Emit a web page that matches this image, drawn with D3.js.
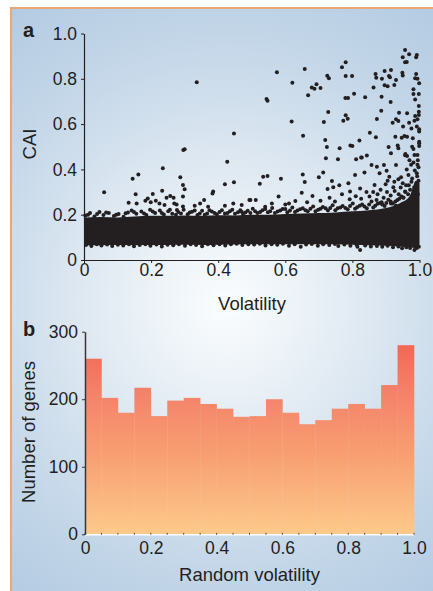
<!DOCTYPE html>
<html>
<head>
<meta charset="utf-8">
<script src="https://cdn.jsdelivr.net/npm/d3@7"></script>
<style>
body { margin: 0; background: #fff; }
svg text { font-family: "Liberation Sans", Arial, Helvetica, sans-serif; fill: #231f20; }
</style>
</head>
<body>
<div id="chart"></div>
<script>
// ---- panel a: CAI vs volatility ----
// dense core of the cloud, read as an envelope (volatility, low CAI, high CAI)
var bandVol  = [0, 0.05, 0.1, 0.15, 0.2, 0.25, 0.3, 0.35, 0.4, 0.45, 0.5, 0.55, 0.6, 0.65, 0.7, 0.75, 0.8, 0.85, 0.9, 0.94, 0.97, 0.99, 1.0];
var bandHigh = [0.188, 0.190, 0.188, 0.192, 0.195, 0.195, 0.197, 0.195, 0.198, 0.197, 0.200, 0.200, 0.203, 0.205, 0.207, 0.210, 0.215, 0.220, 0.230, 0.250, 0.280, 0.350, 0.340];
var bandLow  = [0.064, 0.065, 0.066, 0.065, 0.066, 0.066, 0.067, 0.066, 0.067, 0.068, 0.069, 0.069, 0.069, 0.069, 0.069, 0.069, 0.067, 0.065, 0.063, 0.060, 0.056, 0.052, 0.056];

// single genes outside the core: [volatility, CAI]
var outlierGenes = [
    [0.336,0.785],[0.300,0.489],[0.296,0.486],
    [0.957,0.927],[0.969,0.908],[0.992,0.905],[0.990,0.895],[0.950,0.895],[0.957,0.873],[0.962,0.874],
    [0.780,0.873],[0.769,0.851],[0.658,0.843],[0.575,0.829],[0.621,0.783],[0.725,0.814],[0.730,0.802],
    [0.780,0.812],[0.799,0.812],[0.679,0.762],[0.687,0.756],[0.693,0.776],[0.705,0.759],[0.668,0.727],
    [0.544,0.711],[0.547,0.703],[0.869,0.821],[0.871,0.805],[0.896,0.834],[0.915,0.839],[0.909,0.812],
    [0.912,0.807],[0.888,0.800],[0.930,0.795],[0.949,0.827],[0.950,0.815],[0.990,0.821],[0.987,0.802],
    [0.994,0.800],[0.999,0.780],[0.896,0.771],[0.905,0.767],[0.925,0.773],[0.863,0.762],[0.982,0.754],
    [0.982,0.733],[0.998,0.733],[0.987,0.709],[0.805,0.734],[0.779,0.715],[0.787,0.715],[0.838,0.718],
    [0.887,0.721],[0.914,0.698],[0.998,0.680],[0.728,0.653],[0.886,0.659],[0.939,0.650],[0.963,0.648],
    [0.987,0.636],[0.998,0.655],[0.998,0.640],[0.780,0.639],[0.786,0.624],[0.773,0.615],[0.715,0.609],
    [0.619,0.612],[0.873,0.623],[0.930,0.621],[0.937,0.614],[0.920,0.606],[0.969,0.606],[0.994,0.621],
    [0.985,0.615],[0.951,0.589],[0.976,0.581],[0.992,0.589],[0.999,0.577],[0.999,0.567],
    [0.447,0.558],[0.653,0.549],[0.852,0.562],[0.870,0.542],[0.928,0.544],[0.947,0.540],[0.955,0.547],
    [0.963,0.544],[0.980,0.537],[0.999,0.522],[0.999,0.515],[0.999,0.503],
    [0.719,0.530],[0.724,0.499],[0.762,0.493],[0.794,0.506],[0.800,0.503],[0.821,0.528],[0.908,0.499],
    [0.935,0.506],[0.937,0.493],[0.978,0.500],[0.982,0.490],[0.958,0.468],[0.963,0.459],[0.985,0.464],
    [0.994,0.464],[0.915,0.471],[0.843,0.461],[0.826,0.452],[0.811,0.445],[0.721,0.449],[0.757,0.445],
    [0.427,0.434],[0.420,0.334],[0.447,0.343],[0.524,0.337],[0.534,0.368],[0.547,0.371],[0.587,0.359],
    [0.652,0.377],[0.658,0.344],[0.700,0.365],[0.713,0.386],[0.739,0.349],[0.828,0.453],
    [0.957,0.463],[0.857,0.419],[0.873,0.412],[0.894,0.419],[0.902,0.394],[0.930,0.419],
    [0.962,0.400],[0.967,0.375],[0.992,0.383],[0.994,0.421],[0.881,0.383],[0.910,0.368],[0.937,0.356],
    [0.808,0.375],[0.836,0.386],[0.726,0.313],[0.743,0.321],[0.761,0.330],[0.649,0.297],[0.681,0.283],
    [0.788,0.339],[0.823,0.316],[0.793,0.302],[0.866,0.331],[0.899,0.334],[0.922,0.321],[0.950,0.339],
    [0.957,0.302],[0.512,0.265],[0.493,0.265],[0.580,0.280],[0.611,0.250],[0.470,0.243],[0.385,0.302],
    [0.060,0.299],[0.145,0.359],[0.162,0.378],[0.235,0.405],[0.287,0.365],[0.295,0.331],[0.300,0.312],
    [0.233,0.306],[0.154,0.290],[0.133,0.253],[0.157,0.250],[0.183,0.262],[0.205,0.291],[0.214,0.262],
    [0.225,0.250],[0.240,0.243],[0.257,0.283],[0.269,0.250],[0.295,0.280],[0.346,0.250],[0.358,0.265],
    [0.383,0.294],[0.267,0.275],[0.190,0.272],[0.246,0.275],[0.199,0.255],[0.276,0.245],
    [0.295,0.236],[0.277,0.221],[0.496,0.265],[0.470,0.213],
    [0.705,0.262],[0.732,0.275],[0.748,0.258],[0.769,0.290],[0.792,0.268],[0.810,0.282],[0.826,0.270],
    [0.842,0.300],[0.851,0.280],[0.862,0.300],[0.875,0.290],[0.884,0.310],[0.893,0.275],[0.903,0.300],
    [0.914,0.285],[0.926,0.305],[0.938,0.290],[0.944,0.320],[0.952,0.275],[0.960,0.330],[0.966,0.290],
    [0.972,0.310],[0.976,0.345],[0.981,0.280],[0.984,0.320],[0.989,0.300],[0.991,0.340],[0.995,0.290],
    [0.997,0.410],[0.995,0.440],[0.982,0.430],[0.975,0.420],[0.970,0.440],[0.945,0.365],[0.925,0.345],
    [0.905,0.350],[0.887,0.255],[0.872,0.265],[0.958,0.250],[0.970,0.260],[0.988,0.250],[0.930,0.240],
    [0.915,0.250],[0.600,0.245],[0.560,0.250],[0.630,0.260],[0.540,0.235],[0.665,0.255],[0.420,0.240],
    [0.370,0.235],[0.445,0.250],[0.330,0.240]
];

// genes on the upper rim of the core
var upperRimGenes = [
    [0.004,0.197],[0.018,0.207],[0.031,0.192],[0.046,0.212],[0.058,0.199],[0.074,0.208],[0.089,0.194],
    [0.103,0.203],[0.118,0.191],[0.131,0.210],[0.142,0.218],[0.156,0.204],[0.171,0.214],[0.186,0.199],
    [0.197,0.222],[0.212,0.208],[0.226,0.218],[0.238,0.201],[0.251,0.215],[0.263,0.204],[0.281,0.212],
    [0.297,0.222],[0.309,0.202],[0.322,0.213],[0.338,0.199],[0.352,0.217],[0.367,0.205],[0.381,0.214],
    [0.396,0.202],[0.411,0.220],[0.428,0.208],[0.442,0.222],[0.459,0.211],[0.474,0.203],[0.488,0.217],
    [0.503,0.226],[0.517,0.207],[0.532,0.220],[0.548,0.211],[0.561,0.230],[0.577,0.214],[0.592,0.225],
    [0.606,0.211],[0.621,0.232],[0.636,0.218],[0.652,0.228],[0.667,0.215],[0.683,0.236],[0.698,0.222],
    [0.712,0.234],[0.727,0.219],[0.741,0.242],[0.756,0.228],[0.771,0.238],[0.786,0.224],[0.801,0.250],
    [0.814,0.233],[0.829,0.245],[0.843,0.229],[0.857,0.258],[0.868,0.240],[0.882,0.252],[0.896,0.238],
    [0.907,0.266],[0.921,0.250],[0.934,0.265],[0.946,0.280],[0.958,0.300],[0.968,0.330],[0.978,0.360],
    [0.986,0.395],[0.993,0.370],[0.997,0.350],
    [0.012,0.200],[0.039,0.203],[0.066,0.210],[0.096,0.200],[0.124,0.206],[0.149,0.212],[0.179,0.205],
    [0.205,0.214],[0.232,0.208],[0.256,0.222],[0.274,0.200],[0.289,0.205],[0.315,0.210],[0.330,0.218],
    [0.345,0.205],[0.360,0.200],[0.374,0.220],[0.389,0.208],[0.404,0.212],[0.420,0.205],[0.435,0.215],
    [0.450,0.204],[0.466,0.220],[0.481,0.210],[0.496,0.208],[0.510,0.215],[0.525,0.212],[0.540,0.225],
    [0.555,0.215],[0.569,0.208],[0.585,0.218],[0.600,0.225],[0.614,0.218],[0.629,0.212],[0.644,0.224],
    [0.660,0.220],[0.675,0.226],[0.690,0.215],[0.705,0.226],[0.720,0.228],[0.734,0.230],[0.749,0.220],
    [0.764,0.232],[0.779,0.230],[0.793,0.238],[0.808,0.226],[0.822,0.240],[0.836,0.236],[0.850,0.245],
    [0.862,0.232],[0.875,0.248],[0.889,0.245],[0.901,0.252],[0.914,0.258],[0.928,0.258],[0.940,0.270],
    [0.952,0.276]
];

// genes on the lower rim of the core
var lowerRimGenes = [
    [0.006,0.066],[0.022,0.062],[0.038,0.069],[0.052,0.064],[0.069,0.068],[0.084,0.062],[0.101,0.067],
    [0.117,0.064],[0.134,0.069],[0.149,0.061],[0.166,0.066],[0.183,0.070],[0.198,0.063],[0.216,0.068],
    [0.232,0.060],[0.249,0.067],[0.266,0.065],[0.283,0.070],[0.301,0.063],[0.318,0.069],[0.334,0.066],
    [0.352,0.061],[0.369,0.069],[0.386,0.065],[0.404,0.070],[0.421,0.064],[0.438,0.069],[0.455,0.072],
    [0.472,0.066],[0.490,0.070],[0.507,0.068],[0.524,0.072],[0.541,0.064],[0.559,0.070],[0.576,0.067],
    [0.593,0.072],[0.611,0.063],[0.628,0.069],[0.646,0.059],[0.662,0.068],[0.679,0.071],[0.697,0.063],
    [0.713,0.070],[0.731,0.066],[0.748,0.071],[0.758,0.062],[0.776,0.068],[0.794,0.063],[0.812,0.068],
    [0.815,0.059],[0.823,0.044],[0.838,0.064],[0.855,0.060],[0.873,0.062],[0.889,0.058],[0.905,0.063],
    [0.921,0.056],[0.937,0.060],[0.948,0.052],[0.961,0.056],[0.972,0.053],[0.985,0.044],[0.992,0.053],
    [0.998,0.058]
];

var caiTicks = [0, 0.2, 0.4, 0.6, 0.8, 1.0];
var caiTickLabels = ["0", "0.2", "0.4", "0.6", "0.8", "1.0"];
var volTicks = [0, 0.2, 0.4, 0.6, 0.8, 1.0];
var volTickLabels = ["0", "0.2", "0.4", "0.6", "0.8", "1.0"];

// ---- panel b: histogram of random volatility ----
var binEdges = [0, 0.05, 0.1, 0.15, 0.2, 0.25, 0.3, 0.35, 0.4, 0.45, 0.5, 0.55, 0.6, 0.65, 0.7, 0.75, 0.8, 0.85, 0.9, 0.95, 1.0];
var geneCounts = [260, 202, 180, 217, 175, 198, 202, 193, 186, 174, 175, 200, 180, 163, 169, 186, 193, 186, 221, 280];
var countTicks = [0, 100, 200, 300];
var countTickLabels = ["0", "100", "200", "300"];

var width = 433, height = 591;
var ink = "#231f20";

var svg = d3.select("#chart").append("svg")
    .attr("width", width)
    .attr("height", height);

var defs = svg.append("defs");

var bg = defs.append("radialGradient")
    .attr("id", "bgGrad")
    .attr("gradientUnits", "userSpaceOnUse")
    .attr("cx", 225).attr("cy", 305).attr("r", 360);
bg.append("stop").attr("offset", 0).attr("stop-color", "#fbfdfe");
bg.append("stop").attr("offset", 0.35).attr("stop-color", "#e2ebf3");
bg.append("stop").attr("offset", 0.7).attr("stop-color", "#c6d8e9");
bg.append("stop").attr("offset", 1).attr("stop-color", "#b4cbe2");

// ---- frame ----
svg.append("rect")
    .attr("x", 11).attr("y", 8)
    .attr("width", width - 11).attr("height", height - 8)
    .attr("fill", "url(#bgGrad)");

svg.append("path")
    .attr("d", "M 11 " + height + " V 8 H " + width)
    .attr("fill", "none")
    .attr("stroke", "#eba676")
    .attr("stroke-width", 2);

// ---- panel a ----
var xA = d3.scaleLinear().domain([0, 1]).range([84, 419.5]);
var yA = d3.scaleLinear().domain([0, 1]).range([260, 33.5]);

var bandData = bandVol.map(function(v, i) {
    return {v: v, lo: bandLow[i], hi: bandHigh[i]};
});

var band = d3.area()
    .x(function(d) { return xA(d.v); })
    .y0(function(d) { return yA(d.lo); })
    .y1(function(d) { return yA(d.hi); })
    .curve(d3.curveMonotoneX);

var panelA = svg.append("g").attr("class", "panel-a");

panelA.append("path")
    .datum(bandData)
    .attr("fill", ink)
    .attr("d", band);

var allGenes = outlierGenes.concat(upperRimGenes, lowerRimGenes);

panelA.selectAll(".gene")
    .data(allGenes)
    .enter()
    .append("circle")
    .attr("class", "gene")
    .attr("cx", function(d) { return xA(d[0]); })
    .attr("cy", function(d) { return yA(d[1]); })
    .attr("r", 2)
    .attr("fill", ink);

var yAxisA = panelA.append("g")
    .attr("transform", "translate(84,0)")
    .call(d3.axisLeft(yA)
        .tickValues(caiTicks)
        .tickFormat(function(d, i) { return caiTickLabels[i]; })
        .tickSize(3).tickSizeOuter(0).tickPadding(4));

var xAxisA = panelA.append("g")
    .attr("transform", "translate(0,260)")
    .call(d3.axisBottom(xA)
        .tickValues(volTicks)
        .tickFormat(function(d, i) { return volTickLabels[i]; })
        .tickSize(3).tickSizeOuter(0).tickPadding(1));

[yAxisA, xAxisA].forEach(function(ax) {
    ax.select(".domain").attr("stroke", ink).attr("stroke-width", 1.2);
    ax.selectAll(".tick line").attr("stroke", ink);
    ax.selectAll(".tick text").attr("fill", ink).style("font-size", "17.5px");
});

panelA.append("text")
    .attr("x", 23).attr("y", 37)
    .style("font-size", "20px").style("font-weight", "bold")
    .text("a");

panelA.append("text")
    .attr("transform", "translate(36,144) rotate(-90)")
    .attr("text-anchor", "middle")
    .style("font-size", "18.5px")
    .text("CAI");

panelA.append("text")
    .attr("x", 252).attr("y", 310)
    .attr("text-anchor", "middle")
    .style("font-size", "18.5px")
    .text("Volatility");

// ---- panel b ----
var xB = d3.scaleLinear().domain([0, 1]).range([85, 414]);
var yB = d3.scaleLinear().domain([0, 300]).range([534.3, 331.7]);

var barGrad = defs.append("linearGradient")
    .attr("id", "barGrad")
    .attr("gradientUnits", "userSpaceOnUse")
    .attr("x1", 0).attr("x2", 0)
    .attr("y1", yB(300)).attr("y2", yB(0));
barGrad.append("stop").attr("offset", 0).attr("stop-color", "#ee6250");
barGrad.append("stop").attr("offset", 0.3).attr("stop-color", "#f4826a");
barGrad.append("stop").attr("offset", 0.62).attr("stop-color", "#f8a072");
barGrad.append("stop").attr("offset", 1).attr("stop-color", "#fdca8b");

var panelB = svg.append("g").attr("class", "panel-b");

panelB.selectAll(".bar")
    .data(geneCounts)
    .enter()
    .append("rect")
    .attr("class", "bar")
    .attr("x", function(d, i) { return xB(binEdges[i]); })
    .attr("width", function(d, i) { return xB(binEdges[i + 1]) - xB(binEdges[i]) + 0.3; })
    .attr("y", function(d) { return yB(d); })
    .attr("height", function(d) { return yB(0) - yB(d); })
    .attr("fill", "url(#barGrad)");

// light baseline with small bin ticks
panelB.append("line")
    .attr("x1", xB(0)).attr("x2", xB(1))
    .attr("y1", yB(0) + 0.5).attr("y2", yB(0) + 0.5)
    .attr("stroke", "#ffffff")
    .attr("stroke-width", 1.4);

panelB.selectAll(".bin-tick")
    .data(binEdges)
    .enter()
    .append("line")
    .attr("class", "bin-tick")
    .attr("x1", function(d) { return xB(d); })
    .attr("x2", function(d) { return xB(d); })
    .attr("y1", yB(0) - 1.5)
    .attr("y2", yB(0) + 0.5)
    .attr("stroke", "#555")
    .attr("stroke-width", 1);

var xAxisB = panelB.append("g")
    .attr("transform", "translate(0," + yB(0) + ")")
    .call(d3.axisBottom(xB)
        .tickValues(volTicks)
        .tickFormat(function(d, i) { return volTickLabels[i]; })
        .tickSize(0).tickSizeOuter(0).tickPadding(7));
xAxisB.select(".domain").remove();

var yAxisB = panelB.append("g")
    .attr("transform", "translate(85,0)")
    .call(d3.axisLeft(yB)
        .tickValues(countTicks)
        .tickFormat(function(d, i) { return countTickLabels[i]; })
        .tickSize(3).tickSizeOuter(0).tickPadding(4));
yAxisB.select(".domain").attr("stroke", "#3b3434").attr("stroke-width", 1.5);
yAxisB.selectAll(".tick line").attr("stroke", "#3b3434");

[xAxisB, yAxisB].forEach(function(ax) {
    ax.selectAll(".tick text").attr("fill", ink).style("font-size", "17.5px");
});

panelB.append("text")
    .attr("x", 23).attr("y", 336)
    .style("font-size", "20px").style("font-weight", "bold")
    .text("b");

panelB.append("text")
    .attr("transform", "translate(35,432) rotate(-90)")
    .attr("text-anchor", "middle")
    .style("font-size", "18.5px")
    .text("Number of genes");

panelB.append("text")
    .attr("x", 249.5).attr("y", 581)
    .attr("text-anchor", "middle")
    .style("font-size", "18.5px")
    .text("Random volatility");
</script>
</body>
</html>
